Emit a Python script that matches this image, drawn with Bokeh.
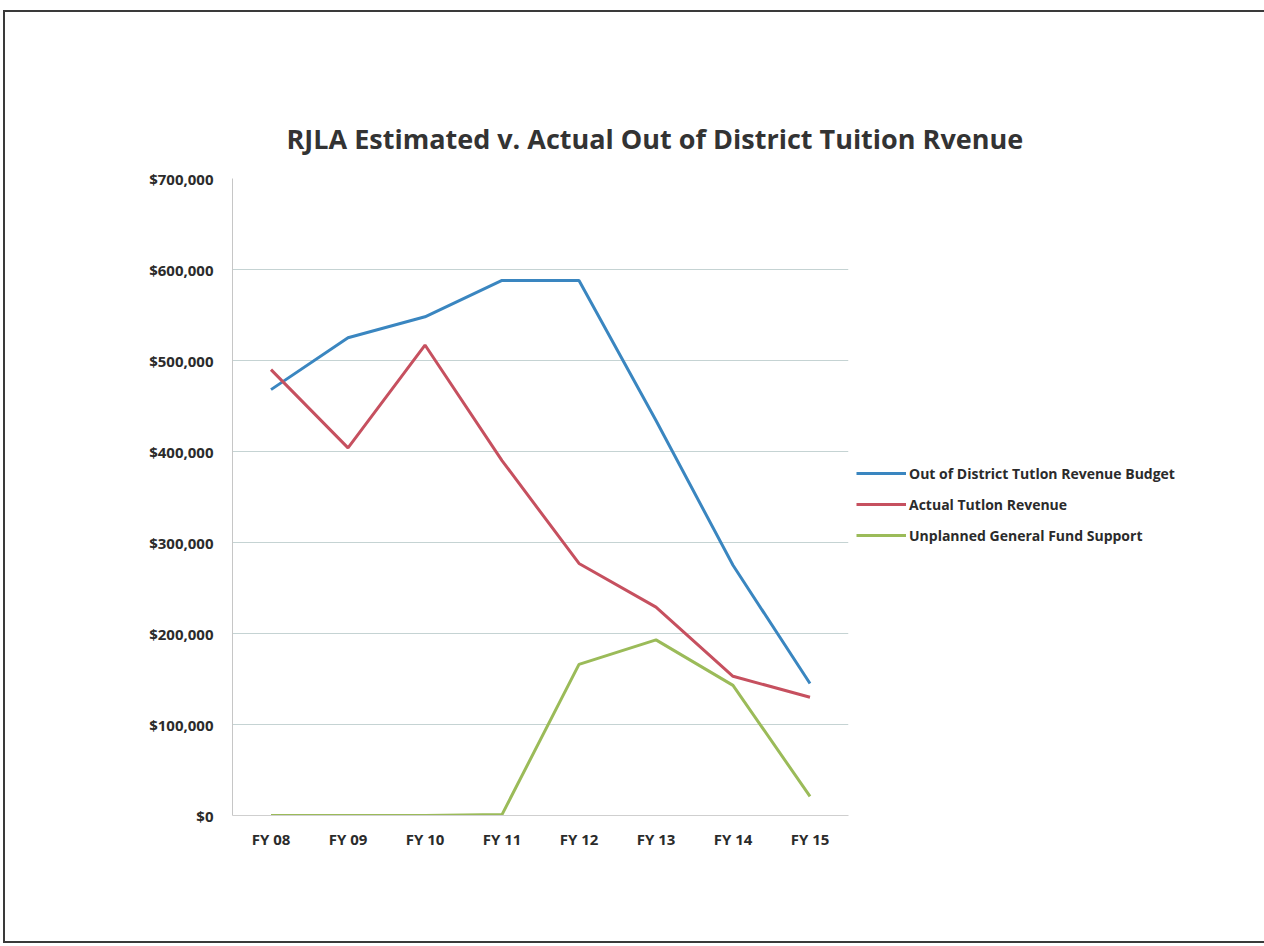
from bokeh.plotting import figure
from bokeh.models import (Legend, LegendItem, NumeralTickFormatter, FixedTicker,
                          Title, Range1d)
from bokeh.layouts import column
from bokeh.embed import file_html
from bokeh.resources import INLINE

# Fiscal years and revenue figures (USD)
years = ["FY 08", "FY 09", "FY 10", "FY 11", "FY 12", "FY 13", "FY 14", "FY 15"]
budget = [468000, 525000, 548000, 588000, 588000, 434000, 275000, 145000]
actual = [490000, 404000, 517000, 390000, 277000, 229000, 153000, 130000]
general_fund = [0, 0, 0, 1000, 166000, 193000, 143000, 21000]
y_ticks = [0, 100000, 200000, 300000, 400000, 500000, 600000, 700000]

series_names = ["Out of District Tutlon Revenue Budget",
                "Actual Tutlon Revenue",
                "Unplanned General Fund Support"]
title_text = "RJLA Estimated v. Actual Out of District Tuition Rvenue"

FONT = "Open Sans"
TEXT_COLOR = "#2b2b2b"

p = figure(x_range=years, y_range=Range1d(0, 700000),
           frame_width=616, frame_height=637,
           output_backend="svg", toolbar_location=None,
           min_border_left=227, min_border_right=52,
           min_border_top=166, min_border_bottom=126)
p.outline_line_color = None
p.background_fill_color = "white"
p.border_fill_color = "white"

t = Title(text=title_text, align="left", offset=54,
          text_font=FONT, text_font_size="27px", text_font_style="bold",
          text_color="#333333", standoff=43)
p.add_layout(t, "above")

# y axis
p.yaxis.ticker = FixedTicker(ticks=y_ticks)
p.yaxis.formatter = NumeralTickFormatter(format="$0,0")
p.yaxis.axis_line_color = "#c6c6c6"
p.yaxis.major_tick_line_color = None
p.yaxis.minor_tick_line_color = None
p.yaxis.major_label_standoff = 13
p.yaxis.major_label_text_font = FONT
p.yaxis.major_label_text_font_size = "15px"
p.yaxis.major_label_text_font_style = "bold"
p.yaxis.major_label_text_color = TEXT_COLOR

# x axis
p.xaxis.axis_line_color = "#cfcfcf"
p.xaxis.major_tick_line_color = None
p.xaxis.minor_tick_line_color = None
p.xaxis.major_label_standoff = 7
p.xaxis.major_label_text_font = FONT
p.xaxis.major_label_text_font_size = "15px"
p.xaxis.major_label_text_font_style = "bold"
p.xaxis.major_label_text_color = TEXT_COLOR

p.xgrid.grid_line_color = None
p.ygrid.ticker = FixedTicker(ticks=y_ticks)
p.ygrid.grid_line_color = "#c5d3d3"
p.ygrid.grid_line_width = 1.2

colors = ["#3a86c0", "#c6505f", "#9bbb59"]
r1 = p.line(years, budget, line_color=colors[0], line_width=3)
r2 = p.line(years, actual, line_color=colors[1], line_width=3)
r3 = p.line(years, general_fund, line_color=colors[2], line_width=3)

legend = Legend(items=[LegendItem(label=series_names[0], renderers=[r1]),
                       LegendItem(label=series_names[1], renderers=[r2]),
                       LegendItem(label=series_names[2], renderers=[r3])],
                location=(8, 270), orientation="vertical",
                glyph_width=50, glyph_height=20, label_height=20,
                label_standoff=3, spacing=11, padding=0, margin=0,
                border_line_color=None, background_fill_alpha=0,
                label_text_font=FONT, label_text_font_size="14px",
                label_text_font_style="bold", label_text_color=TEXT_COLOR)
p.add_layout(legend, "right")

layout = column(p, margin=(10, 0, 0, 3),
                styles={"border": "2px solid #3a3a3a"})

open("out.html", "w").write(file_html(layout, INLINE))
